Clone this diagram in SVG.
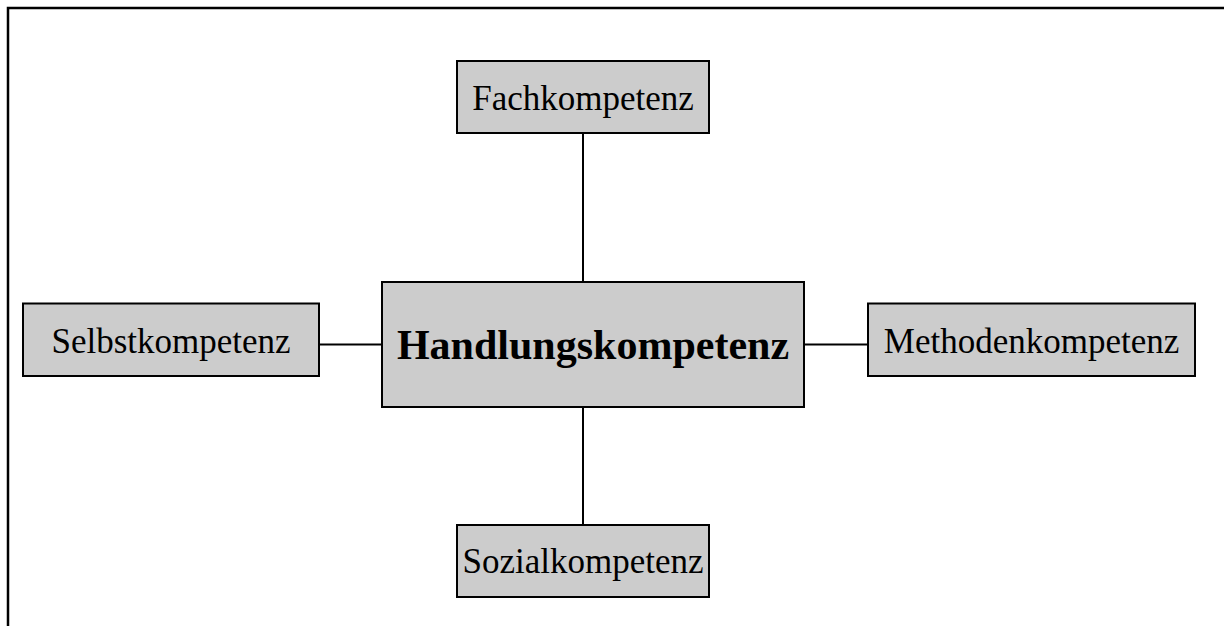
<svg xmlns="http://www.w3.org/2000/svg" width="1224" height="626" viewBox="0 0 1224 626">
<style>
.box{fill:#cccccc;stroke:#000;stroke-width:2}
.lbl{font-family:"Liberation Serif","Times New Roman",serif;font-size:35px;fill:#000;text-anchor:middle}
.main{font-family:"Liberation Serif","Times New Roman",serif;font-size:42px;font-weight:bold;fill:#000;text-anchor:middle}
.conn{stroke:#000;stroke-width:2;fill:none}
</style>
<rect width="1224" height="626" fill="#fff"/>
<path d="M8,626 V8 H1224" fill="none" stroke="#000" stroke-width="2.5"/>
<g id="connectors">
<line class="conn" x1="583" y1="133" x2="583" y2="282"/>
<line class="conn" x1="583" y1="407" x2="583" y2="525"/>
<line class="conn" x1="319" y1="344.5" x2="382" y2="344.5"/>
<line class="conn" x1="804" y1="344.5" x2="868" y2="344.5"/>
</g>
<g id="handlung">
<rect class="box" x="382" y="282" width="422" height="125"/>
<text class="main" x="593" y="359">Handlungskompetenz</text>
</g>
<g id="fach">
<rect class="box" x="457" y="61" width="252" height="72"/>
<text class="lbl" x="583" y="110">Fachkompetenz</text>
</g>
<g id="sozial">
<rect class="box" x="457" y="525" width="252" height="72"/>
<text class="lbl" x="583" y="573">Sozialkompetenz</text>
</g>
<g id="selbst">
<rect class="box" x="23" y="303.5" width="296" height="72.5"/>
<text class="lbl" x="171" y="353">Selbstkompetenz</text>
</g>
<g id="methoden">
<rect class="box" x="868" y="303.5" width="327" height="72.5"/>
<text class="lbl" x="1031.5" y="353">Methodenkompetenz</text>
</g>
</svg>
